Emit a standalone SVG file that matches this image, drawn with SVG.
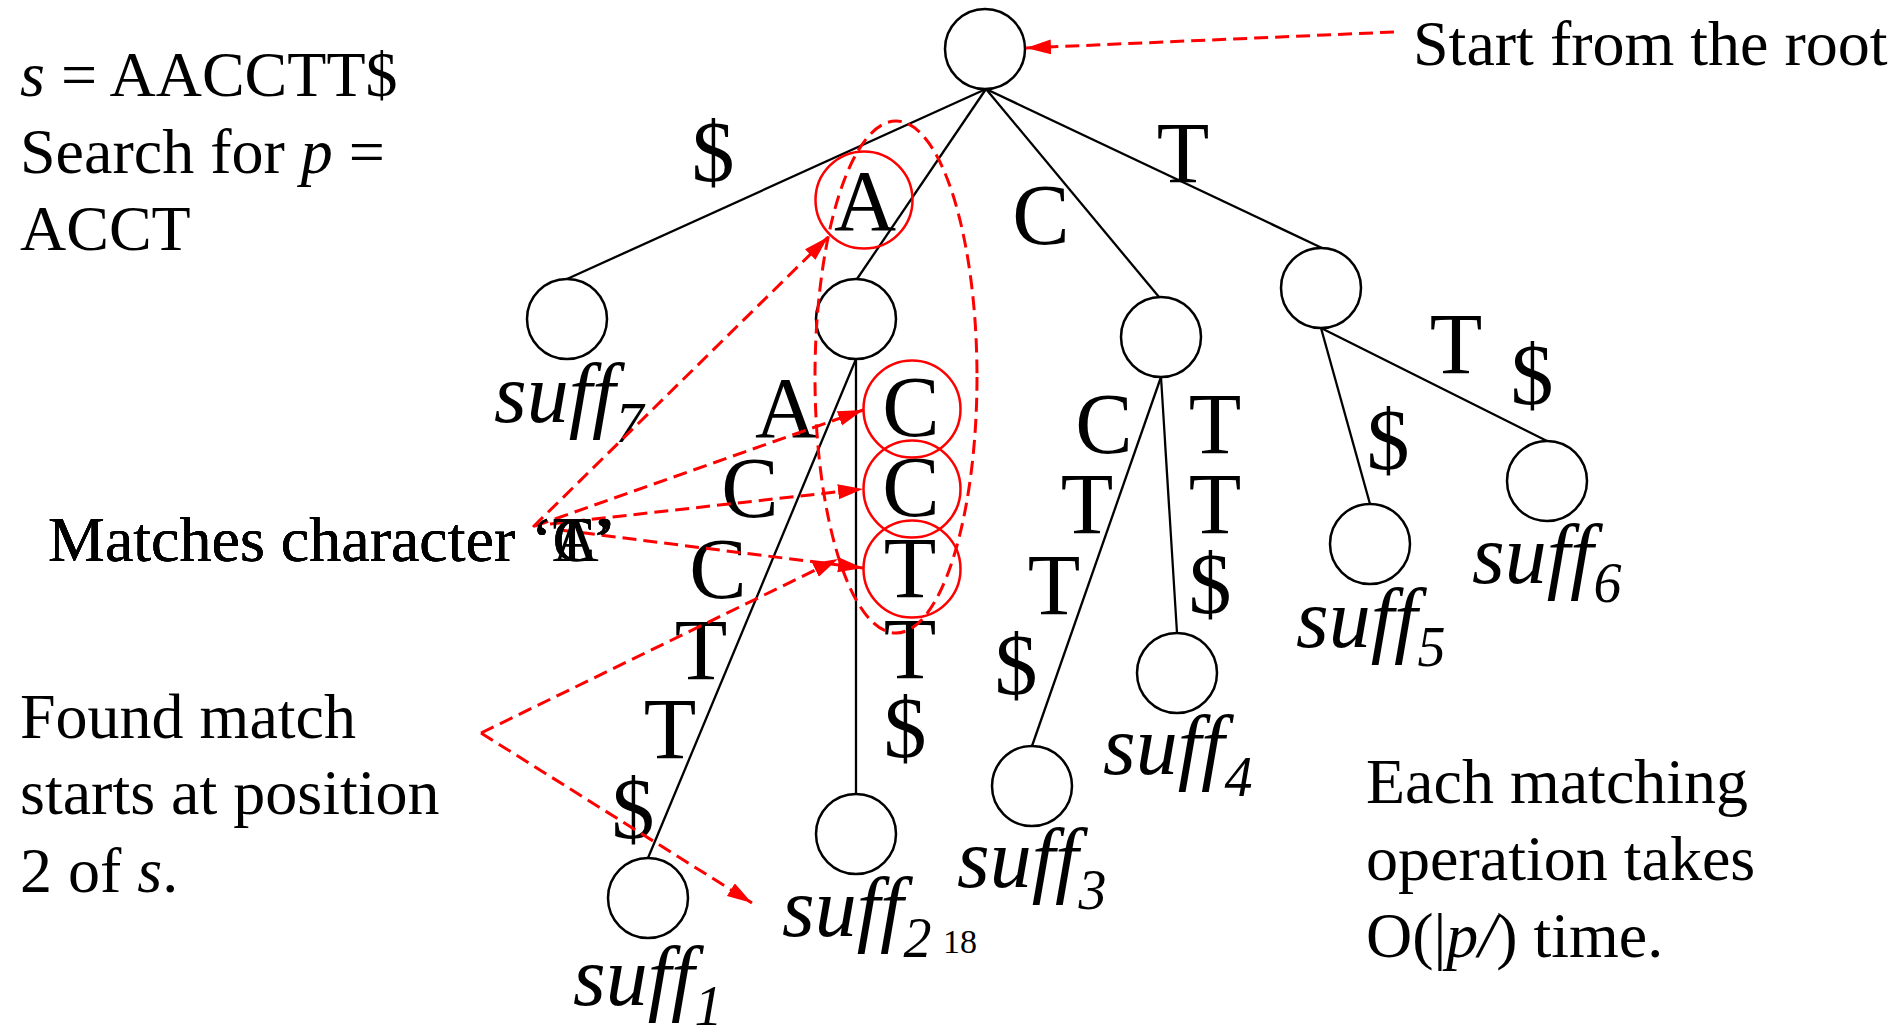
<svg xmlns="http://www.w3.org/2000/svg" width="1897" height="1033" viewBox="0 0 1897 1033">
<defs>
<marker id="ah" markerUnits="userSpaceOnUse" markerWidth="26" markerHeight="16" refX="25" refY="7.5" orient="auto">
<path d="M0,0 L25,7.5 L0,15 z" fill="#ff0000"/>
</marker>
<style>
text{font-family:"Liberation Serif","Times New Roman",serif;fill:#000}
.t{font-size:64px}
.lab{font-size:86px;text-anchor:middle}
.suff{font-size:84px;font-style:italic}
.sub{font-size:56px}
.i{font-style:italic}
.node{fill:#fff;stroke:#000;stroke-width:2.5}
.edge{stroke:#000;stroke-width:2.3;fill:none}
.hl{fill:none;stroke:#ff0000;stroke-width:2.5}
.da{stroke:#ff0000;stroke-width:3;stroke-dasharray:14 7;fill:none}
</style>
</defs>
<rect width="1897" height="1033" fill="#fff"/>

<g id="connectors">
<line class="edge" x1="986" y1="89" x2="567" y2="279"/>
<line class="edge" x1="986" y1="89" x2="857" y2="279"/>
<line class="edge" x1="986" y1="89" x2="1159" y2="297"/>
<line class="edge" x1="986" y1="89" x2="1322" y2="248"/>
<line class="edge" x1="856" y1="359" x2="648" y2="858"/>
<line class="edge" x1="856" y1="359" x2="856" y2="794"/>
<line class="edge" x1="1161" y1="377" x2="1032" y2="746"/>
<line class="edge" x1="1161" y1="377" x2="1177" y2="633"/>
<line class="edge" x1="1321" y1="328" x2="1370" y2="504"/>
<line class="edge" x1="1321" y1="328" x2="1547" y2="441"/>
</g>

<g id="edge-labels">
<text class="lab" x="713" y="181">$</text>
<text class="lab" x="865" y="230">A</text>
<text class="lab" x="1041" y="244">C</text>
<text class="lab" x="1183" y="182">T</text>
<text class="lab" x="786" y="437">A</text>
<text class="lab" x="750" y="517">C</text>
<text class="lab" x="718" y="598">C</text>
<text class="lab" x="701" y="679">T</text>
<text class="lab" x="670" y="758">T</text>
<text class="lab" x="633" y="838">$</text>
<text class="lab" x="911" y="436">C</text>
<text class="lab" x="911" y="516">C</text>
<text class="lab" x="910" y="597">T</text>
<text class="lab" x="910" y="678">T</text>
<text class="lab" x="905" y="757">$</text>
<text class="lab" x="1104" y="453">C</text>
<text class="lab" x="1087" y="533">T</text>
<text class="lab" x="1054" y="614">T</text>
<text class="lab" x="1016" y="694">$</text>
<text class="lab" x="1215" y="453">T</text>
<text class="lab" x="1215" y="533">T</text>
<text class="lab" x="1210" y="613">$</text>
<text class="lab" x="1456" y="373">T</text>
<text class="lab" x="1532" y="404">$</text>
<text class="lab" x="1388" y="469">$</text>
</g>

<g id="root"><circle class="node" cx="985" cy="49" r="40"/></g>
<g id="n-dollar"><circle class="node" cx="567" cy="319" r="40"/><text class="suff" x="494" y="422">suff<tspan class="sub" dy="20">7</tspan></text></g>
<g id="n-A"><circle class="node" cx="856" cy="319" r="40"/></g>
<g id="n-C"><circle class="node" cx="1161" cy="337" r="40"/></g>
<g id="n-T"><circle class="node" cx="1321" cy="288" r="40"/></g>
<g id="suff1"><circle class="node" cx="648" cy="898" r="40"/><text class="suff" x="573" y="1005">suff<tspan class="sub" dy="20">1</tspan></text></g>
<g id="suff2"><circle class="node" cx="856" cy="834" r="40"/><text class="suff" x="782" y="936">suff<tspan class="sub" dy="21">2</tspan></text></g>
<g id="suff3"><circle class="node" cx="1032" cy="786" r="40"/><text class="suff" x="957" y="887">suff<tspan class="sub" dy="22">3</tspan></text></g>
<g id="suff4"><circle class="node" cx="1177" cy="673" r="40"/><text class="suff" x="1103" y="774">suff<tspan class="sub" dy="22">4</tspan></text></g>
<g id="suff5"><circle class="node" cx="1370" cy="544" r="40"/><text class="suff" x="1296" y="647">suff<tspan class="sub" dy="19">5</tspan></text></g>
<g id="suff6"><circle class="node" cx="1547" cy="481" r="40"/><text class="suff" x="1472" y="583">suff<tspan class="sub" dy="19">6</tspan></text></g>

<g id="highlights">
<circle class="hl" cx="864" cy="200" r="48.5"/>
<circle class="hl" cx="912" cy="409" r="48.5"/>
<circle class="hl" cx="912" cy="489" r="48.5"/>
<circle class="hl" cx="912" cy="569" r="48.5"/>
<ellipse class="da" cx="896" cy="377" rx="81" ry="256"/>
</g>

<g id="annotations">
<line class="da" x1="1394" y1="32" x2="1026" y2="48" marker-end="url(#ah)"/>
<line class="da" x1="533" y1="527" x2="828" y2="237" marker-end="url(#ah)"/>
<line class="da" x1="535" y1="526" x2="863" y2="410" marker-end="url(#ah)"/>
<line class="da" x1="550" y1="524" x2="863" y2="489" marker-end="url(#ah)"/>
<line class="da" x1="560" y1="530" x2="863" y2="568" marker-end="url(#ah)"/>
<line class="da" x1="481" y1="733" x2="838" y2="559" marker-end="url(#ah)"/>
<line class="da" x1="481" y1="733" x2="752" y2="903" marker-end="url(#ah)"/>
</g>

<g id="texts">
<text class="t" x="20" y="96"><tspan class="i">s</tspan> = AACCTT$</text>
<text class="t" x="20" y="173">Search for <tspan class="i">p</tspan> =</text>
<text class="t" x="20" y="250">ACCT</text>
<text class="t" x="1413" y="65">Start from the root</text>
<text class="t" x="48" y="561">Matches character ‘A’</text>
<text class="t" x="48" y="561">Matches character ‘C’</text>
<text class="t" x="48" y="561">Matches character ‘C’</text>
<text class="t" x="48" y="561">Matches character ‘T’</text>
<text class="t" x="20" y="738">Found match</text>
<text class="t" x="20" y="814">starts at position</text>
<text class="t" x="20" y="892">2 of <tspan class="i">s</tspan>.</text>
<text class="t" x="1366" y="803">Each matching</text>
<text class="t" x="1366" y="880">operation takes</text>
<text class="t" x="1366" y="957">O(|<tspan class="i">p/</tspan>) time.</text>
<text x="943" y="953" style="font-size:34px">18</text>
</g>
</svg>
